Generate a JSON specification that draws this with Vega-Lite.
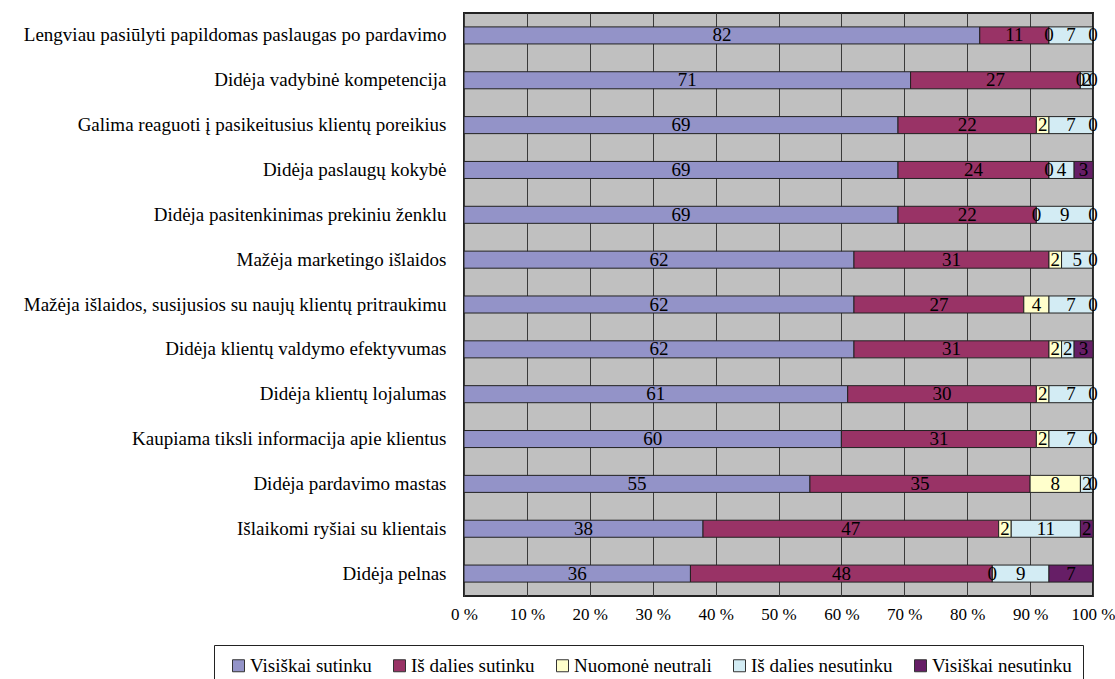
{
  "$schema": "https://vega.github.io/schema/vega-lite/v6.json",
  "autosize": {"type": "none"},
  "padding": {"left": 464, "top": 13, "right": 22, "bottom": 83},
  "width": 629,
  "height": 583,
  "background": "white",
  "config": {
    "font": "Liberation Serif",
    "view": {"fill": "#C0C0C0", "stroke": "#222222", "strokeWidth": 2}
  },
  "data": {
    "values": [
      {"q": "Lengviau pasiūlyti papildomas paslaugas po pardavimo", "s": "Visiškai sutinku", "v": 82},
      {"q": "Lengviau pasiūlyti papildomas paslaugas po pardavimo", "s": "Iš dalies sutinku", "v": 11},
      {"q": "Lengviau pasiūlyti papildomas paslaugas po pardavimo", "s": "Nuomonė neutrali", "v": 0},
      {"q": "Lengviau pasiūlyti papildomas paslaugas po pardavimo", "s": "Iš dalies nesutinku", "v": 7},
      {"q": "Lengviau pasiūlyti papildomas paslaugas po pardavimo", "s": "Visiškai nesutinku", "v": 0},
      {"q": "Didėja vadybinė kompetencija", "s": "Visiškai sutinku", "v": 71},
      {"q": "Didėja vadybinė kompetencija", "s": "Iš dalies sutinku", "v": 27},
      {"q": "Didėja vadybinė kompetencija", "s": "Nuomonė neutrali", "v": 0},
      {"q": "Didėja vadybinė kompetencija", "s": "Iš dalies nesutinku", "v": 2},
      {"q": "Didėja vadybinė kompetencija", "s": "Visiškai nesutinku", "v": 0},
      {"q": "Galima reaguoti į pasikeitusius klientų poreikius", "s": "Visiškai sutinku", "v": 69},
      {"q": "Galima reaguoti į pasikeitusius klientų poreikius", "s": "Iš dalies sutinku", "v": 22},
      {"q": "Galima reaguoti į pasikeitusius klientų poreikius", "s": "Nuomonė neutrali", "v": 2},
      {"q": "Galima reaguoti į pasikeitusius klientų poreikius", "s": "Iš dalies nesutinku", "v": 7},
      {"q": "Galima reaguoti į pasikeitusius klientų poreikius", "s": "Visiškai nesutinku", "v": 0},
      {"q": "Didėja paslaugų kokybė", "s": "Visiškai sutinku", "v": 69},
      {"q": "Didėja paslaugų kokybė", "s": "Iš dalies sutinku", "v": 24},
      {"q": "Didėja paslaugų kokybė", "s": "Nuomonė neutrali", "v": 0},
      {"q": "Didėja paslaugų kokybė", "s": "Iš dalies nesutinku", "v": 4},
      {"q": "Didėja paslaugų kokybė", "s": "Visiškai nesutinku", "v": 3},
      {"q": "Didėja pasitenkinimas prekiniu ženklu", "s": "Visiškai sutinku", "v": 69},
      {"q": "Didėja pasitenkinimas prekiniu ženklu", "s": "Iš dalies sutinku", "v": 22},
      {"q": "Didėja pasitenkinimas prekiniu ženklu", "s": "Nuomonė neutrali", "v": 0},
      {"q": "Didėja pasitenkinimas prekiniu ženklu", "s": "Iš dalies nesutinku", "v": 9},
      {"q": "Didėja pasitenkinimas prekiniu ženklu", "s": "Visiškai nesutinku", "v": 0},
      {"q": "Mažėja marketingo išlaidos", "s": "Visiškai sutinku", "v": 62},
      {"q": "Mažėja marketingo išlaidos", "s": "Iš dalies sutinku", "v": 31},
      {"q": "Mažėja marketingo išlaidos", "s": "Nuomonė neutrali", "v": 2},
      {"q": "Mažėja marketingo išlaidos", "s": "Iš dalies nesutinku", "v": 5},
      {"q": "Mažėja marketingo išlaidos", "s": "Visiškai nesutinku", "v": 0},
      {"q": "Mažėja išlaidos, susijusios su naujų klientų pritraukimu", "s": "Visiškai sutinku", "v": 62},
      {"q": "Mažėja išlaidos, susijusios su naujų klientų pritraukimu", "s": "Iš dalies sutinku", "v": 27},
      {"q": "Mažėja išlaidos, susijusios su naujų klientų pritraukimu", "s": "Nuomonė neutrali", "v": 4},
      {"q": "Mažėja išlaidos, susijusios su naujų klientų pritraukimu", "s": "Iš dalies nesutinku", "v": 7},
      {"q": "Mažėja išlaidos, susijusios su naujų klientų pritraukimu", "s": "Visiškai nesutinku", "v": 0},
      {"q": "Didėja klientų valdymo efektyvumas", "s": "Visiškai sutinku", "v": 62},
      {"q": "Didėja klientų valdymo efektyvumas", "s": "Iš dalies sutinku", "v": 31},
      {"q": "Didėja klientų valdymo efektyvumas", "s": "Nuomonė neutrali", "v": 2},
      {"q": "Didėja klientų valdymo efektyvumas", "s": "Iš dalies nesutinku", "v": 2},
      {"q": "Didėja klientų valdymo efektyvumas", "s": "Visiškai nesutinku", "v": 3},
      {"q": "Didėja klientų lojalumas", "s": "Visiškai sutinku", "v": 61},
      {"q": "Didėja klientų lojalumas", "s": "Iš dalies sutinku", "v": 30},
      {"q": "Didėja klientų lojalumas", "s": "Nuomonė neutrali", "v": 2},
      {"q": "Didėja klientų lojalumas", "s": "Iš dalies nesutinku", "v": 7},
      {"q": "Didėja klientų lojalumas", "s": "Visiškai nesutinku", "v": 0},
      {"q": "Kaupiama tiksli informacija apie klientus", "s": "Visiškai sutinku", "v": 60},
      {"q": "Kaupiama tiksli informacija apie klientus", "s": "Iš dalies sutinku", "v": 31},
      {"q": "Kaupiama tiksli informacija apie klientus", "s": "Nuomonė neutrali", "v": 2},
      {"q": "Kaupiama tiksli informacija apie klientus", "s": "Iš dalies nesutinku", "v": 7},
      {"q": "Kaupiama tiksli informacija apie klientus", "s": "Visiškai nesutinku", "v": 0},
      {"q": "Didėja pardavimo mastas", "s": "Visiškai sutinku", "v": 55},
      {"q": "Didėja pardavimo mastas", "s": "Iš dalies sutinku", "v": 35},
      {"q": "Didėja pardavimo mastas", "s": "Nuomonė neutrali", "v": 8},
      {"q": "Didėja pardavimo mastas", "s": "Iš dalies nesutinku", "v": 2},
      {"q": "Didėja pardavimo mastas", "s": "Visiškai nesutinku", "v": 0},
      {"q": "Išlaikomi ryšiai su klientais", "s": "Visiškai sutinku", "v": 38},
      {"q": "Išlaikomi ryšiai su klientais", "s": "Iš dalies sutinku", "v": 47},
      {"q": "Išlaikomi ryšiai su klientais", "s": "Nuomonė neutrali", "v": 2},
      {"q": "Išlaikomi ryšiai su klientais", "s": "Iš dalies nesutinku", "v": 11},
      {"q": "Išlaikomi ryšiai su klientais", "s": "Visiškai nesutinku", "v": 2},
      {"q": "Didėja pelnas", "s": "Visiškai sutinku", "v": 36},
      {"q": "Didėja pelnas", "s": "Iš dalies sutinku", "v": 48},
      {"q": "Didėja pelnas", "s": "Nuomonė neutrali", "v": 0},
      {"q": "Didėja pelnas", "s": "Iš dalies nesutinku", "v": 9},
      {"q": "Didėja pelnas", "s": "Visiškai nesutinku", "v": 7}
    ]
  },
  "transform": [
    {"stack": "v", "groupby": ["q"], "as": ["v0", "v1"]},
    {"calculate": "(datum.v0 + datum.v1) / 2", "as": "vmid"}
  ],
  "encoding": {
    "y": {
      "field": "q", "type": "nominal", "sort": null, "title": null,
      "scale": {"paddingInner": 0.62, "paddingOuter": 0.31},
      "axis": {"ticks": false, "domain": false, "labelFontSize": 19, "labelColor": "#000000", "labelPadding": 18, "labelLimit": 500, "labelFont": "Liberation Serif"}
    }
  },
  "layer": [
    {
      "mark": {"type": "bar", "stroke": "#222222", "strokeWidth": 1},
      "encoding": {
        "x": {
          "field": "v0", "type": "quantitative", "title": null,
          "scale": {"domain": [0, 100], "nice": false},
          "axis": {
            "values": [0, 10, 20, 30, 40, 50, 60, 70, 80, 90, 100],
            "labelExpr": "datum.value + ' %'",
            "grid": true, "gridColor": "#3a3a3a", "gridWidth": 1,
            "ticks": false, "domain": false, "labelFlush": false, "labelOverlap": false,
            "labelFontSize": 17, "labelColor": "#000000", "labelPadding": 10, "labelFont": "Liberation Serif"
          }
        },
        "x2": {"field": "v1"},
        "color": {
          "field": "s", "type": "nominal", "title": null,
          "scale": {
            "domain": ["Visiškai sutinku", "Iš dalies sutinku", "Nuomonė neutrali", "Iš dalies nesutinku", "Visiškai nesutinku"],
            "range": ["#9393C8", "#993366", "#FFFFCC", "#D3ECF4", "#661E66"]
          },
          "legend": {
            "orient": "none", "legendX": -250, "legendY": 632,
            "direction": "horizontal", "columns": 5,
            "strokeColor": "#222222", "fillColor": "#FFFFFF", "padding": 11,
            "symbolType": "square", "symbolSize": 144, "symbolStrokeColor": "#333333", "symbolStrokeWidth": 1,
            "symbolOffset": 4,
            "labelFontSize": 19, "labelColor": "#000000", "labelFont": "Liberation Serif", "labelLimit": 400,
            "labelOffset": 2, "columnPadding": 14
          }
        }
      }
    },
    {
      "mark": {"type": "text", "fontSize": 19, "color": "#000000", "font": "Liberation Serif", "baseline": "middle", "align": "center"},
      "encoding": {
        "x": {"field": "vmid", "type": "quantitative"},
        "text": {"field": "v", "type": "quantitative"}
      }
    }
  ]
}
